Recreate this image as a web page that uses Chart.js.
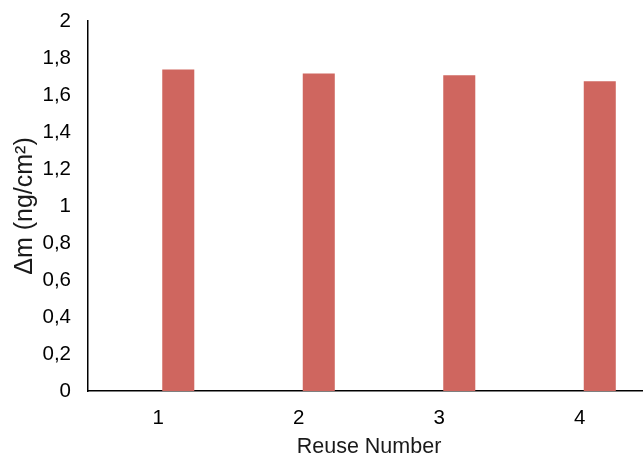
<!DOCTYPE html>
<html>
<head>
<meta charset="utf-8">
<script src="https://cdn.jsdelivr.net/npm/chart.js@4/dist/chart.umd.min.js"></script>
<style>
  html, body { margin: 0; padding: 0; background: #fff; overflow: hidden; }
  #wrap { position: relative; width: 652px; height: 460px; }
</style>
</head>
<body>
<div id="wrap"><canvas id="c"></canvas></div>
<script>
// Reuse cycles and the mass change measured after each one
const reuseNumbers = ['1', '2', '3', '4'];
const massChange = [1.738, 1.716, 1.707, 1.675];
// Empty companion series occupying the left slot of each group
const blankSeries = [null, null, null, null];
const yTicks = [0, 0.2, 0.4, 0.6, 0.8, 1, 1.2, 1.4, 1.6, 1.8, 2];

const FONT = '"Liberation Sans", Arial, sans-serif';

new Chart(document.getElementById('c'), {
  type: 'bar',
  data: {
    labels: reuseNumbers,
    datasets: [
      { label: '', data: blankSeries, backgroundColor: 'rgba(0,0,0,0)' },
      { label: 'Δm', data: massChange, backgroundColor: 'rgb(207,102,95)', borderWidth: 0 }
    ]
  },
  options: {
    responsive: true,
    maintainAspectRatio: false,
    animation: false,
    events: [],
    categoryPercentage: 0.57,
    barPercentage: 0.8,
    layout: { padding: { top: 0, right: 2, left: 10, bottom: 0 } },
    plugins: { legend: { display: false }, tooltip: { enabled: false } },
    scales: {
      x: {
        grid: { display: false, drawTicks: false },
        border: { display: true, color: '#000', width: 1.5 },
        ticks: { color: '#000', font: { family: FONT, size: 20.5 }, padding: 15 },
        title: {
          display: true, text: 'Reuse Number', color: '#1a1a1a',
          font: { family: FONT, size: 21.5 }, padding: { top: 5, bottom: 0 }
        },
        afterFit: (s) => { s.height = 69; }
      },
      y: {
        min: 0, max: 2,
        afterBuildTicks: (s) => { s.ticks = yTicks.map(v => ({ value: v })); },
        grid: { display: false, drawTicks: false },
        border: { display: true, color: '#000', width: 1.5 },
        ticks: {
          color: '#000', font: { family: FONT, size: 20.5 }, padding: 17,
          callback: (v) => String(v).replace('.', ',')
        },
        title: {
          display: true, text: 'Δm (ng/cm²)', color: '#1a1a1a',
          font: { family: FONT, size: 25 }, padding: { top: 0, bottom: 4 }
        },
        afterFit: (s) => { s.width = 78; s.paddingTop = 21; }
      }
    }
  }
});
</script>
</body>
</html>
